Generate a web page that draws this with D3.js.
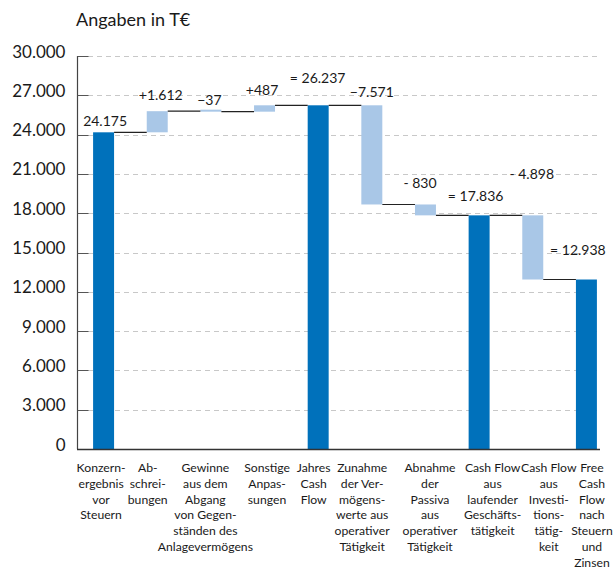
<!DOCTYPE html>
<html><head><meta charset="utf-8">
<script src="https://cdn.jsdelivr.net/npm/d3@7"></script>
<style>
body{margin:0;background:#fff}
svg{display:block}
text{font-family:Lato,"Open Sans",sans-serif;fill:#1a1a1a}
</style>
</head><body>
<svg id="c" width="614" height="569"></svg>
<script>
// ---- data ----
const categories = [
  ["Konzern-","ergebnis","vor","Steuern"],
  ["Ab-","schrei-","bungen"],
  ["Gewinne","aus dem","Abgang","von Gegen-","ständen des","Anlagevermögens"],
  ["Sonstige","Anpas-","sungen"],
  ["Jahres","Cash","Flow"],
  ["Zunahme","der Ver-","mögens-","werte aus","operativer","Tätigkeit"],
  ["Abnahme","der","Passiva","aus","operativer","Tätigkeit"],
  ["Cash Flow","aus","laufender","Geschäfts-","tätigkeit"],
  ["Cash Flow","aus","Investi-","tions-","tätig-","keit"],
  ["Free","Cash","Flow","nach","Steuern","und","Zinsen"]
];
const amounts = [24175, 1612, -37, 487, 26237, -7571, -830, 17836, -4898, 12938];
const isTotal = [true, false, false, false, true, false, false, true, false, true];
const valueLabels = ["24.175","+1.612","\u221237","+487","= 26.237","\u22127.571","- 830","= 17.836","- 4.898","= 12.938"];
const yTicks = [0,3000,6000,9000,12000,15000,18000,21000,24000,27000,30000];
const yTickLabels = ["0","3.000","6.000","9.000","12.000","15.000","18.000","21.000","24.000","27.000","30.000"];
const title = "Angaben in T\u20ac";

// ---- layout tweaks (offsets relative to data positions) ----
const labelLift = [6, 11, 6, 10, 22, 8, 16, 14, 36, 25];
const labelDx   = [1.5, 3.5, -1.5, -2.5, -0.5, 0, -5.5, -3.5, -1, -8.5];
const catDx     = [-2.5, -9.5, -5.5, 2.5, -4.5, -9.7, 4.5, 13.5, 16, 5.5];

const svg = d3.select("#c");
const x = d3.scaleBand().domain(d3.range(amounts.length)).range([77, 613]).paddingInner(0.609).paddingOuter(0.3);
const y = d3.scaleLinear().domain([0, 30000]).range([449, 56]);

// compute waterfall segments
let run = 0;
const segs = amounts.map((v, i) => {
  let lo, hi, end;
  if (isTotal[i]) { run = v; lo = 0; hi = v; end = v; }
  else { const s = run; run = run + v; lo = Math.min(s, run); hi = Math.max(s, run); end = run; }
  return {i, lo, hi, end, total: isTotal[i]};
});

// gridlines
svg.append("g").selectAll("line").data(yTicks.filter(t => t > 0)).join("line")
  .attr("x1", 88).attr("x2", 600)
  .attr("y1", d => Math.round(y(d)) + 0.5).attr("y2", d => Math.round(y(d)) + 0.5)
  .attr("stroke", "#c8c8c8").attr("stroke-dasharray", "5,4").attr("stroke-width", 1);

// left axis
const ax = svg.append("g").attr("transform", "translate(77.5,0)");
ax.append("line").attr("x1",0).attr("x2",0).attr("y1",y(30000)).attr("y2",y(0)).attr("stroke","#444").attr("stroke-width",1.2);
ax.selectAll("line.t").data(yTicks).join("line").attr("class","t")
  .attr("x1",0).attr("x2",11)
  .attr("y1", d => Math.round(y(d)) + 0.5).attr("y2", d => Math.round(y(d)) + 0.5)
  .attr("stroke","#555").attr("stroke-width",1);
ax.selectAll("text").data(yTicks).join("text")
  .attr("x", -12).attr("y", d => y(d) + 1.5)
  .attr("text-anchor","end").attr("font-size", 17)
  .text((d, i) => yTickLabels[i]);

// bars
svg.append("g").selectAll("rect").data(segs).join("rect")
  .attr("x", d => x(d.i))
  .attr("width", x.bandwidth())
  .attr("y", d => Math.min(y(d.hi), y(d.lo) - 2))
  .attr("height", d => Math.max(y(d.lo) - y(d.hi), 2))
  .attr("fill", d => d.total ? "#0071bb" : "#a9c7e7");

// connectors
svg.append("g").selectAll("line").data(segs.slice(0, -1)).join("line")
  .attr("x1", d => x(d.i) + x.bandwidth())
  .attr("x2", d => x(d.i + 1))
  .attr("y1", d => y(d.end)).attr("y2", d => y(d.end))
  .attr("stroke", "#222").attr("stroke-width", 1.2);

// bottom axis
svg.append("line").attr("x1", 77).attr("x2", 600).attr("y1", y(0) + 0.5).attr("y2", y(0) + 0.5)
  .attr("stroke","#333").attr("stroke-width",1.5);

// value labels
svg.append("g").selectAll("text").data(segs).join("text")
  .attr("x", d => x(d.i) + x.bandwidth()/2 + labelDx[d.i])
  .attr("y", d => y(d.hi) - labelLift[d.i])
  .attr("text-anchor","middle").attr("font-size", 14)
  .text(d => valueLabels[d.i]);

// category labels
const cg = svg.append("g");
categories.forEach((lines, i) => {
  const t = cg.append("text")
    .attr("x", x(i) + x.bandwidth()/2 + catDx[i])
    .attr("y", 472).attr("text-anchor","middle").attr("font-size", 12.2);
  lines.forEach((l, k) => t.append("tspan")
    .attr("x", x(i) + x.bandwidth()/2 + catDx[i]).attr("dy", k === 0 ? 0 : 15.8).text(l));
});

// title
svg.append("text").attr("x", 76).attr("y", 26).attr("font-size", 18).text(title);
</script>
</body></html>
